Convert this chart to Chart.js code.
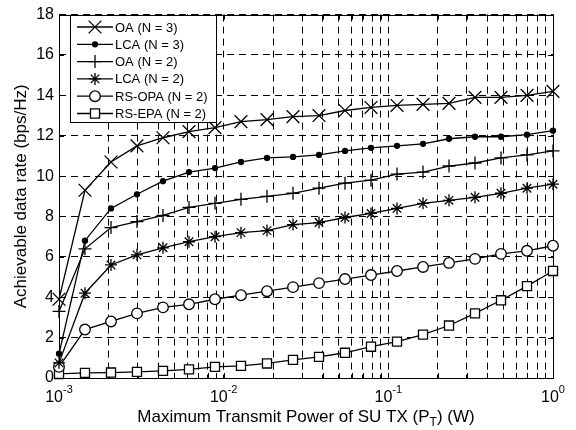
<!DOCTYPE html>
<html>
<head>
<meta charset="utf-8">
<script src="https://cdn.jsdelivr.net/npm/chart.js@4.4.1/dist/chart.umd.min.js"></script>
<style>
    html, body { margin: 0; padding: 0; background: #fff; }
</style>
</head>
<body>
<canvas id="rateChart" width="576" height="430"></canvas>
<script>
// transmit power P_T (W), 20 points evenly spaced on the log axis
const powerValues = [0.001, 0.001438, 0.002069, 0.002976, 0.004281, 0.006158, 0.008859,
    0.01274, 0.01833, 0.02637, 0.03793, 0.05456, 0.07848, 0.1129, 0.1624, 0.2336,
    0.3360, 0.4833, 0.6952, 1];

const oaN3 = [3.9, 9.3, 10.7, 11.5, 11.9, 12.2, 12.4, 12.7, 12.8, 12.95,
    13.0, 13.25, 13.4, 13.5, 13.55, 13.6, 13.9, 13.9, 14.0, 14.2];
const lcaN3 = [1.2, 6.8, 8.4, 9.1, 9.75, 10.2, 10.4, 10.7, 10.9, 10.95,
    11.05, 11.25, 11.4, 11.5, 11.6, 11.85, 11.95, 11.95, 12.05, 12.25];
const oaN2 = [3.3, 6.4, 7.45, 7.75, 8.05, 8.45, 8.65, 8.85, 9.0, 9.15,
    9.4, 9.65, 9.8, 10.1, 10.2, 10.5, 10.65, 10.9, 11.05, 11.25];
const lcaN2 = [0.75, 4.2, 5.6, 6.1, 6.45, 6.75, 7.0, 7.2, 7.3, 7.6,
    7.7, 7.95, 8.15, 8.4, 8.65, 8.8, 8.95, 9.15, 9.4, 9.6];
const rsOpaN2 = [0.55, 2.4, 2.8, 3.2, 3.5, 3.65, 3.9, 4.1, 4.3, 4.5,
    4.7, 4.9, 5.1, 5.3, 5.5, 5.7, 5.9, 6.15, 6.3, 6.55];
const rsEpaN2 = [0.2, 0.25, 0.27, 0.3, 0.35, 0.43, 0.55, 0.6, 0.72, 0.9,
    1.05, 1.25, 1.55, 1.8, 2.15, 2.6, 3.2, 3.85, 4.55, 5.3];

const seriesLabels = ["OA (N = 3)", "LCA (N = 3)", "OA (N = 2)", "LCA (N = 2)", "RS-OPA (N = 2)", "RS-EPA (N = 2)"];

const xMajorTicks = [0.001, 0.01, 0.1, 1];
const xMajorExponents = ["-3", "-2", "-1", "0"];
const xMinorFactors = [2, 3, 4, 5, 6, 7, 8, 9];

const FONT = "'Liberation Sans', Arial, Helvetica, sans-serif";
Chart.defaults.font.family = FONT;
Chart.defaults.color = "#000";

function makeDataset(label, values, pointStyle, radius, fillColor) {
    return {
        label: label,
        data: powerValues.map((p, i) => ({ x: p, y: values[i] })),
        borderColor: "#000",
        borderWidth: 1.3,
        pointStyle: pointStyle,
        pointRadius: radius,
        pointBorderWidth: 1.3,
        pointBorderColor: "#000",
        pointBackgroundColor: fillColor,
        tension: 0,
        fill: false,
        clip: false
    };
}

const datasets = [
    makeDataset(seriesLabels[0], oaN3, "crossRot", 9, "#000"),
    makeDataset(seriesLabels[1], lcaN3, "circle", 2.5, "#000"),
    makeDataset(seriesLabels[2], oaN2, "cross", 6.5, "#000"),
    makeDataset(seriesLabels[3], lcaN2, "star", 6, "#000"),
    makeDataset(seriesLabels[4], rsOpaN2, "circle", 5.3, "#fff"),
    makeDataset(seriesLabels[5], rsEpaN2, "rect", 6.4, "#fff")
];

// solid box round the plot plus inward tick marks
const framePlugin = {
    id: "frame",
    beforeDatasetsDraw(chart) {
        const ctx = chart.ctx;
        const a = chart.chartArea;
        const xs = chart.scales.x;
        const ys = chart.scales.y;
        ctx.save();
        ctx.strokeStyle = "#000";
        ctx.lineWidth = 1;
        ctx.setLineDash([]);
        ctx.strokeRect(Math.round(a.left) + 0.5, Math.round(a.top) + 0.5,
            Math.round(a.right - a.left), Math.round(a.bottom - a.top));
        ctx.beginPath();
        for (const t of xs.ticks) {
            const x = Math.round(xs.getPixelForValue(t.value)) + 0.5;
            ctx.moveTo(x, a.bottom); ctx.lineTo(x, a.bottom - 5);
            ctx.moveTo(x, a.top); ctx.lineTo(x, a.top + 5);
        }
        for (const t of ys.ticks) {
            const y = Math.round(ys.getPixelForValue(t.value)) + 0.5;
            ctx.moveTo(a.left, y); ctx.lineTo(a.left + 5, y);
            ctx.moveTo(a.right, y); ctx.lineTo(a.right - 5, y);
        }
        ctx.stroke();
        ctx.restore();
    }
};

// "10^n" labels and the x axis title with its subscript
const xLabelPlugin = {
    id: "xLabels",
    afterDraw(chart) {
        const ctx = chart.ctx;
        const xs = chart.scales.x;
        ctx.save();
        ctx.fillStyle = "#000";
        ctx.textBaseline = "alphabetic";
        ctx.textAlign = "left";
        xMajorTicks.forEach((v, i) => {
            const x = xs.getPixelForValue(v);
            ctx.font = "16px " + FONT;
            const wBase = ctx.measureText("10").width;
            ctx.font = "11px " + FONT;
            const wExp = ctx.measureText(xMajorExponents[i]).width;
            const start = x - (wBase + wExp) / 2;
            ctx.font = "16px " + FONT;
            ctx.fillText("10", start, 402);
            ctx.font = "11px " + FONT;
            ctx.fillText(xMajorExponents[i], start + wBase, 393);
        });

        const part1 = "Maximum Transmit Power of SU TX (P";
        const sub = "T";
        const part2 = ") (W)";
        ctx.font = "17px " + FONT;
        const w1 = ctx.measureText(part1).width;
        const w3 = ctx.measureText(part2).width;
        ctx.font = "12px " + FONT;
        const w2 = ctx.measureText(sub).width;
        const cx = (chart.chartArea.left + chart.chartArea.right) / 2;
        let sx = cx - (w1 + w2 + w3) / 2;
        ctx.font = "17px " + FONT;
        ctx.fillText(part1, sx, 422);
        ctx.font = "12px " + FONT;
        ctx.fillText(sub, sx + w1, 426);
        ctx.font = "17px " + FONT;
        ctx.fillText(part2, sx + w1 + w2, 422);
        ctx.restore();
    }
};

// boxed legend in the top-left corner of the plot
const legendPlugin = {
    id: "boxLegend",
    afterDraw(chart) {
        const ctx = chart.ctx;
        const boxX = 70.5, boxY = 15.5, boxW = 146, boxH = 107;
        ctx.save();
        ctx.setLineDash([]);
        ctx.fillStyle = "#fff";
        ctx.fillRect(boxX, boxY, boxW, boxH);
        ctx.strokeStyle = "#000";
        ctx.lineWidth = 1;
        ctx.strokeRect(boxX, boxY, boxW, boxH);
        ctx.font = "13px " + FONT;
        ctx.textBaseline = "middle";
        ctx.textAlign = "left";
        chart.data.datasets.forEach((ds, i) => {
            const y = 27 + i * 17.3;
            ctx.strokeStyle = "#000";
            ctx.lineWidth = ds.borderWidth;
            ctx.beginPath();
            ctx.moveTo(77, y);
            ctx.lineTo(113, y);
            ctx.stroke();
            ctx.fillStyle = ds.pointBackgroundColor;
            ctx.lineWidth = ds.pointBorderWidth;
            Chart.helpers.drawPoint(ctx, {
                pointStyle: ds.pointStyle,
                radius: ds.pointRadius,
                rotation: 0,
                borderWidth: ds.pointBorderWidth
            }, 95, y);
            ctx.fillStyle = "#000";
            ctx.fillText(ds.label, 115, y + 1);
        });
        ctx.restore();
    }
};

new Chart(document.getElementById("rateChart").getContext("2d"), {
    type: "line",
    data: { datasets: datasets },
    options: {
        responsive: false,
        animation: false,
        devicePixelRatio: 1,
        layout: { padding: { left: 7, right: 23, top: 12, bottom: 0 } },
        plugins: {
            legend: { display: false },
            tooltip: { enabled: false }
        },
        scales: {
            x: {
                type: "logarithmic",
                min: 0.001,
                max: 1,
                afterBuildTicks: function(scale) {
                    const ticks = [];
                    xMajorTicks.forEach((m, i) => {
                        ticks.push({ value: m, major: true });
                        if (i < xMajorTicks.length - 1) {
                            xMinorFactors.forEach(f => ticks.push({ value: m * f, major: false }));
                        }
                    });
                    scale.ticks = ticks;
                },
                afterFit: function(scale) { scale.height = 52; },
                ticks: { display: false },
                grid: { color: "#000", lineWidth: 1, drawTicks: false },
                border: { display: false, dash: [7, 5] }
            },
            y: {
                min: 0,
                max: 18,
                ticks: {
                    stepSize: 2,
                    padding: 5,
                    color: "#000",
                    font: { size: 16 }
                },
                afterFit: function(scale) { scale.width = 52; },
                grid: { color: "#000", lineWidth: 1, drawTicks: false },
                border: { display: false, dash: [7, 5] },
                title: {
                    display: true,
                    text: "Achievable data rate (bps/Hz)",
                    color: "#000",
                    font: { size: 17 },
                    padding: { top: 4, bottom: 0 }
                }
            }
        }
    },
    plugins: [framePlugin, xLabelPlugin, legendPlugin]
});
</script>
</body>
</html>
